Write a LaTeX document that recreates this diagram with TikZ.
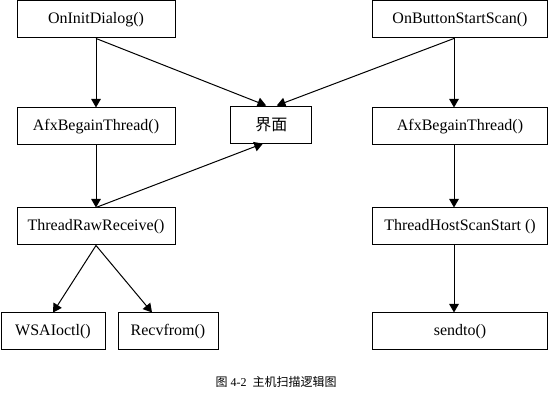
\documentclass[tikz,border=0pt]{standalone}
\usepackage{fontspec}
\setmainfont{Liberation Serif}
\newfontfamily\cjk{Noto Sans CJK SC}
\usepackage{tikz}
\usetikzlibrary{arrows,positioning}

\begin{document}
\begin{tikzpicture}[
    func/.style={rectangle, draw, line width=0.75pt, minimum width=118.5pt, minimum height=27.75pt, inner sep=2pt, font=\fontsize{12}{14}\selectfont},
    wide/.style={func, minimum width=131pt},
    arrow/.style={->, >=triangle 60, line width=0.75pt}
]
\useasboundingbox (0,0) rectangle (411pt,-300.75pt);

% Left column
\node[func] (init) at (72pt,-14.6pt) {OnInitDialog()};
\node[func, below=51.75pt of init] (afxL) {AfxBegainThread()};
\node[func, below=46.5pt of afxL] (raw) {ThreadRawReceive()};

% Middle
\node[func, minimum width=60.75pt] (ui) at (203.6pt,-93.4pt) {\cjk 界面};

% Right column
\node[wide] (scan) at (345pt,-14.6pt) {OnButtonStartScan()};
\node[wide, below=51.75pt of scan] (afxR) {AfxBegainThread()};
\node[wide, below=46.5pt of afxR] (host) {ThreadHostScanStart ()};

% Bottom row
\node[func, minimum width=78pt, below=50.25pt of raw, xshift=-32.25pt] (wsa) {WSAIoctl()};
\node[func, minimum width=75pt, below=50.25pt of raw, xshift=54pt] (recv) {Recvfrom()};
\node[wide, below=50.25pt of host] (send) {sendto()};

% Edges
\draw[arrow] (init.south) -- (afxL.north);
\draw[arrow] (init.south) -- ([xshift=-4pt]ui.north);
\draw[arrow] ([xshift=-4.5pt]scan.south) -- ([xshift=4pt]ui.north);
\draw[arrow] ([xshift=-4.5pt]scan.south) -- ([xshift=-4.5pt]afxR.north);
\draw[arrow] (afxL.south) -- (raw.north);
\draw[arrow] (raw.north) -- ([xshift=-6.4pt]ui.south);
\draw[arrow] (raw.south) -- (wsa.north);
\draw[arrow] (raw.south) -- ([xshift=-12pt]recv.north);
\draw[arrow] ([xshift=-4.5pt]afxR.south) -- ([xshift=-4.5pt]host.north);
\draw[arrow] ([xshift=-4.5pt]host.south) -- ([xshift=-4.5pt]send.north);

% Caption
\node[font=\fontsize{9}{11}\selectfont] (cap) at (207pt,-286.5pt) {{\cjk 图} 4-2\ \ {\cjk 主机扫描逻辑图}};

\end{tikzpicture}
\end{document}
